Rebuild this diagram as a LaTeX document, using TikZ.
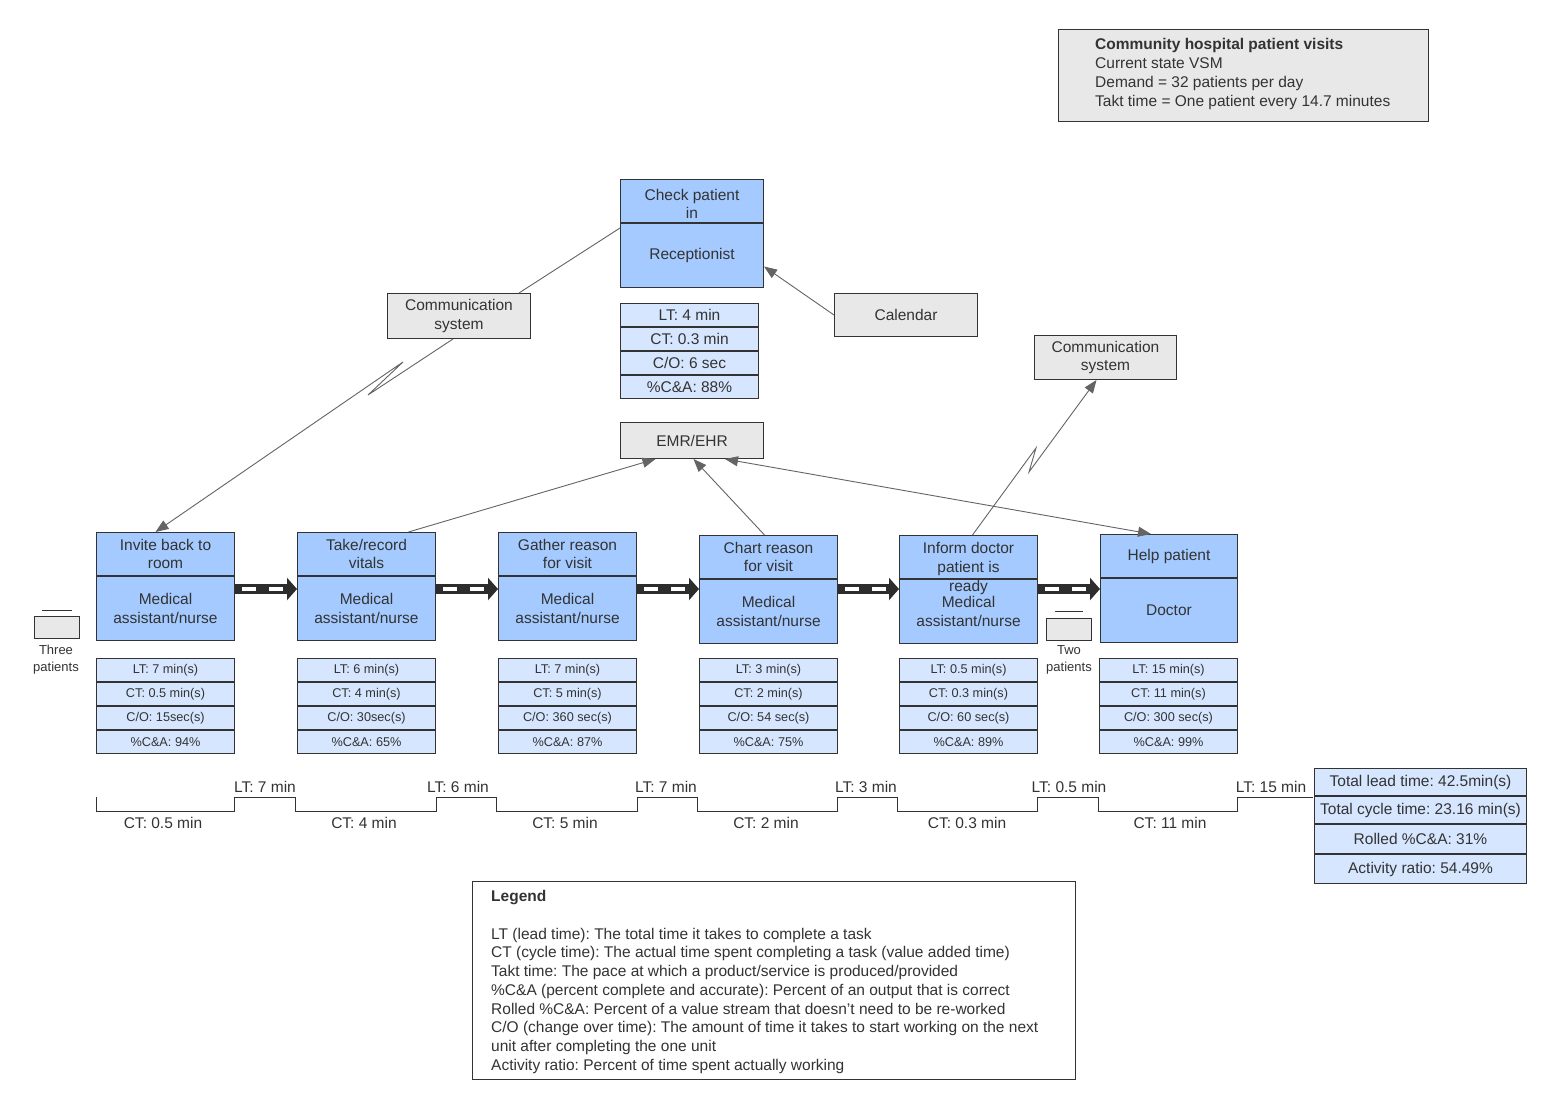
\documentclass[tikz,border=0pt]{standalone}
\usepackage{fontspec}
\setmainfont{Liberation Sans}
\frenchspacing
\usetikzlibrary{arrows.meta}
\definecolor{procblue}{RGB}{164,202,255}
\definecolor{datablue}{RGB}{214,230,255}
\definecolor{graybg}{RGB}{232,232,232}
\definecolor{linec}{RGB}{51,51,51}
\definecolor{txt}{RGB}{51,51,51}
\definecolor{connc}{RGB}{100,100,100}
\definecolor{pushc}{RGB}{45,45,45}
\tikzset{
  box/.style={draw=linec, line width=1pt, inner sep=0pt, anchor=north west, align=center, text=txt},
  hdr/.style={box, fill=procblue, minimum width=138pt, minimum height=43pt},
  bdy/.style={box, fill=procblue, minimum width=138pt, minimum height=64pt},
  row/.style={box, fill=datablue, minimum width=138pt, minimum height=23pt, font=\fontsize{12.7}{14}\selectfont},
  toprow/.style={box, fill=datablue, minimum width=138pt, minimum height=23pt},
  gbox/.style={box, fill=graybg},
  totrow/.style={box, fill=datablue, minimum width=212pt},
  conn/.style={draw=connc, line width=0.9pt},
  arr/.style={-{Triangle[length=13pt,width=10pt,fill=connc]}},
  darr/.style={{Triangle[length=13pt,width=10pt,fill=connc]}-{Triangle[length=13pt,width=10pt,fill=connc]}},
  push/.style={draw=pushc, line width=10pt, -{Triangle[length=10pt,width=22pt]}},
  pushdash/.style={draw=white, line width=4pt, dash pattern=on 14pt off 13pt},
  lbl/.style={inner sep=0pt, text=txt},
  inv/.style={draw=linec, line width=1pt, fill=graybg, inner sep=0pt, anchor=north west, minimum width=45pt, minimum height=22pt},
}
\begin{document}
\begin{tikzpicture}[x=1pt,y=-1pt, font=\fontsize{15.5}{18.7}\selectfont]
\useasboundingbox[fill=white] (0,0) rectangle (1548,1107);

% info box
\node[gbox, minimum width=370pt, minimum height=92pt] (info) at (1058,29) {};
\node[lbl, anchor=west, align=left] (infotxt) at (1095,74) {\textbf{Community hospital patient visits}\\Current state VSM\\Demand = 32 patients per day\\Takt time = One patient every 14.7 minutes};

% check in
\node[hdr, minimum width=143pt] (p0h) at (620,179) {};
\node[lbl, align=center] (p0t) at ([yshift=-3pt]p0h.center) {Check patient\\in};
\node[bdy, minimum width=143pt] (p0b) at (p0h.south west) {Receptionist};
\node[toprow] (d0a) at (620,303) {LT: 4 min};
\node[toprow] (d0b) at (d0a.south west) {CT: 0.3 min};
\node[toprow] (d0c) at (d0b.south west) {C/O: 6 sec};
\node[toprow] (d0d) at (d0c.south west) {\%C\&A: 88\%};

% gray info nodes
\node[gbox, minimum width=143pt, minimum height=45pt] (comm1) at (387,293) {Communication\\system};
\node[gbox, minimum width=143pt, minimum height=43pt] (cal) at (834,293) {Calendar};
\node[gbox, minimum width=142pt, minimum height=44pt] (comm2) at (1034,335) {Communication\\system};
\node[gbox, minimum width=143pt, minimum height=36pt] (emr) at (620,422) {EMR/EHR};

% processes
\node[hdr] (p1h) at (96,532) {Invite back to\\room};
\node[bdy] (p1b) at (p1h.south west) {Medical\\assistant/nurse};
\node[hdr] (p2h) at (297,532) {Take/record\\vitals};
\node[bdy] (p2b) at (p2h.south west) {Medical\\assistant/nurse};
\node[hdr] (p3h) at (498,532) {Gather reason\\for visit};
\node[bdy] (p3b) at (p3h.south west) {Medical\\assistant/nurse};
\node[hdr] (p4h) at (699,535) {Chart reason\\for visit};
\node[bdy] (p4b) at (p4h.south west) {Medical\\assistant/nurse};
\node[hdr] (p5h) at (899,535) {};
\node[bdy] (p5b) at (p5h.south west) {Medical\\assistant/nurse};
\node[lbl, align=center] (p5t) at ([yshift=-11.5pt]p5h.center) {Inform doctor\\patient is\\ready};
\node[hdr, minimum width=137pt] (p6h) at (1100,534) {Help patient};
\node[bdy, minimum width=137pt] (p6b) at (p6h.south west) {Doctor};

% data boxes
\node[row] (d1a) at (96,658) {LT: 7 min(s)};
\node[row] (d1b) at (d1a.south west) {CT: 0.5 min(s)};
\node[row] (d1c) at (d1b.south west) {C/O: 15sec(s)};
\node[row] (d1d) at (d1c.south west) {\%C\&A: 94\%};
\node[row] (d2a) at (297,658) {LT: 6 min(s)};
\node[row] (d2b) at (d2a.south west) {CT: 4 min(s)};
\node[row] (d2c) at (d2b.south west) {C/O: 30sec(s)};
\node[row] (d2d) at (d2c.south west) {\%C\&A: 65\%};
\node[row] (d3a) at (498,658) {LT: 7 min(s)};
\node[row] (d3b) at (d3a.south west) {CT: 5 min(s)};
\node[row] (d3c) at (d3b.south west) {C/O: 360 sec(s)};
\node[row] (d3d) at (d3c.south west) {\%C\&A: 87\%};
\node[row] (d4a) at (699,658) {LT: 3 min(s)};
\node[row] (d4b) at (d4a.south west) {CT: 2 min(s)};
\node[row] (d4c) at (d4b.south west) {C/O: 54 sec(s)};
\node[row] (d4d) at (d4c.south west) {\%C\&A: 75\%};
\node[row] (d5a) at (899,658) {LT: 0.5 min(s)};
\node[row] (d5b) at (d5a.south west) {CT: 0.3 min(s)};
\node[row] (d5c) at (d5b.south west) {C/O: 60 sec(s)};
\node[row] (d5d) at (d5c.south west) {\%C\&A: 89\%};
\node[row] (d6a) at (1099,658) {LT: 15 min(s)};
\node[row] (d6b) at (d6a.south west) {CT: 11 min(s)};
\node[row] (d6c) at (d6b.south west) {C/O: 300 sec(s)};
\node[row] (d6d) at (d6c.south west) {\%C\&A: 99\%};

% inventory
\node[inv] (inv1) at (34,616) {};
\draw[draw=linec, line width=1pt] (42,610) -- (72,610);
\node[lbl, align=center, font=\fontsize{13}{17}\selectfont] (inv1t) at (56,659.5) {Three\\patients};
\node[inv] (inv2) at (1046,618) {};
\draw[draw=linec, line width=1pt] (1055,611) -- (1083,611);
\node[lbl, align=center, font=\fontsize{13}{17}\selectfont] (inv2t) at (1069,659.5) {Two\\patients};

% push arrows
\foreach \a/\b/\s in {p1b/p2b/13, p2b/p3b/13, p3b/p4b/13, p4b/p5b/10, p5b/p6b/10}{
  \coordinate (ps) at ([yshift=-\s pt]\a.north east);
  \draw[push] (ps) -- (ps -| \b.west);
  \draw[pushdash] ([xshift=7pt]ps) -- ++(41,0);
}

% connectors
\draw[conn] ([yshift=-5pt]p0b.north west) -- ([xshift=-12pt]comm1.north east);
\draw[conn, arr] ([xshift=-6pt]comm1.south) -- (368,395) -- (403,362) -- ([xshift=-10pt]p1h.north);
\draw[conn, arr] ([xshift=4pt]p5h.north) -- (1036,448) -- (1029,472) -- ([xshift=-9pt]comm2.south);
\draw[conn, arr] (cal.west) -- ([yshift=-11pt]p0b.east);
\draw[conn, arr] ([xshift=42pt]p2h.north) -- ([xshift=-36.5pt]emr.south);
\draw[conn, arr] ([xshift=-4pt]p4h.north) -- ([xshift=1.5pt]emr.south);
\draw[conn, darr] ([xshift=33pt]emr.south) -- ([xshift=-18pt]p6h.north);

% timeline
\draw[draw=linec, line width=1pt] (96,797) -- (96,811) -- (234,811) -- (234,797) -- (295,797) -- (295,811) -- (436,811) -- (436,797) -- (496,797) -- (496,811) -- (637,811) -- (637,797) -- (697,797) -- (697,811) -- (837,811) -- (837,797) -- (897,797) -- (897,811) -- (1037,811) -- (1037,797) -- (1098,797) -- (1098,811) -- (1237,811) -- (1237,797) -- (1313,797);
\node[lbl] (lt1) at (265,787) {LT: 7 min};
\node[lbl] (lt2) at (458,787) {LT: 6 min};
\node[lbl] (lt3) at (666,787) {LT: 7 min};
\node[lbl] (lt4) at (866,787) {LT: 3 min};
\node[lbl] (lt5) at (1069,787) {LT: 0.5 min};
\node[lbl] (lt6) at (1271,787) {LT: 15 min};
\node[lbl] (ct1) at (163,823) {CT: 0.5 min};
\node[lbl] (ct2) at (364,823) {CT: 4 min};
\node[lbl] (ct3) at (565,823) {CT: 5 min};
\node[lbl] (ct4) at (766,823) {CT: 2 min};
\node[lbl] (ct5) at (967,823) {CT: 0.3 min};
\node[lbl] (ct6) at (1170,823) {CT: 11 min};

% totals
\node[totrow, minimum height=27pt] (tot1) at (1314,768) {Total lead time: 42.5min(s)};
\node[totrow, minimum height=27pt] (tot2) at (tot1.south west) {Total cycle time: 23.16 min(s)};
\node[totrow, minimum height=29pt] (tot3) at (tot2.south west) {Rolled \%C\&A: 31\%};
\node[totrow, minimum height=29pt] (tot4) at (tot3.south west) {Activity ratio: 54.49\%};

% legend
\node[box, fill=white, minimum width=603pt, minimum height=198pt] (leg) at (472,881) {};
\node[lbl, anchor=west, align=left] (legt) at (491,982) {\textbf{Legend}\\[18.7pt]LT (lead time): The total time it takes to complete a task\\CT (cycle time): The actual time spent completing a task (value added time)\\Takt time: The pace at which a product/service is produced/provided\\\%C\&A (percent complete and accurate): Percent of an output that is correct\\Rolled \%C\&A: Percent of a value stream that doesn{\char39}t need to be re-worked\\C/O (change over time): The amount of time it takes to start working on the next\\unit after completing the one unit\\Activity ratio: Percent of time spent actually working};
\end{tikzpicture}
\end{document}
